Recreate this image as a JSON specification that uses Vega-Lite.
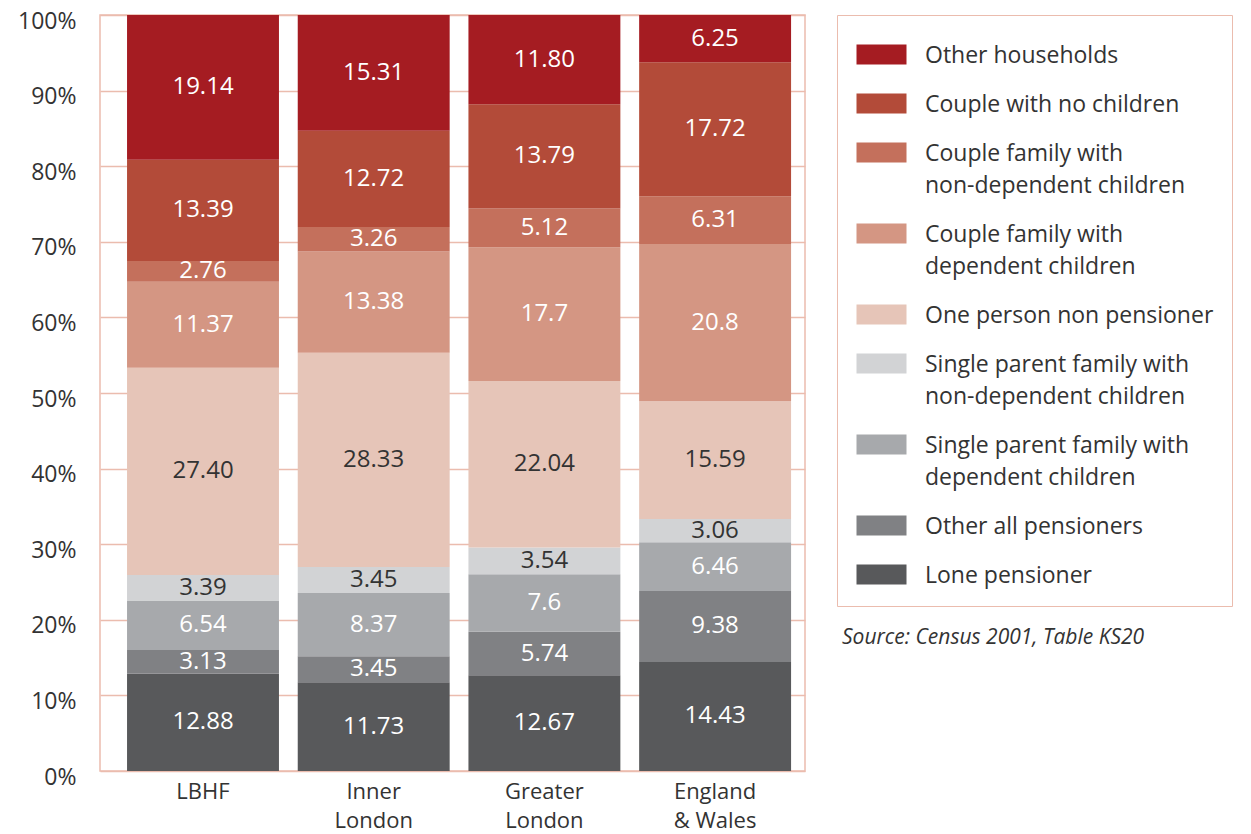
{
  "$schema": "https://vega.github.io/schema/vega-lite/v6.json",
  "width": 705,
  "height": 756,
  "autosize": {"type": "none"},
  "padding": {"left": 100, "top": 15, "right": 446, "bottom": 63},
  "background": "white",
  "config": {
    "font": "Open Sans",
    "view": {"stroke": "#EBBCAE", "strokeWidth": 1.5},
    "style": {"guide-label": {"lineHeight": 32}}
  },
  "title": {
    "text": "Source: Census 2001, Table KS20",
    "orient": "top",
    "anchor": "start",
    "frame": "group",
    "offset": 0,
    "dx": 742,
    "dy": 649,
    "baseline": "middle",
    "fontSize": 21,
    "fontStyle": "italic",
    "fontWeight": "normal",
    "font": "Open Sans",
    "color": "#333333"
  },
  "data": {
    "values": [
      {"region": "LBHF", "category": "Lone pensioner", "value": 12.88, "label": "12.88"},
      {"region": "LBHF", "category": "Other all pensioners", "value": 3.13, "label": "3.13"},
      {"region": "LBHF", "category": "Single parent family with dependent children", "value": 6.54, "label": "6.54"},
      {"region": "LBHF", "category": "Single parent family with non-dependent children", "value": 3.39, "label": "3.39"},
      {"region": "LBHF", "category": "One person non pensioner", "value": 27.40, "label": "27.40"},
      {"region": "LBHF", "category": "Couple family with dependent children", "value": 11.37, "label": "11.37"},
      {"region": "LBHF", "category": "Couple family with non-dependent children", "value": 2.76, "label": "2.76"},
      {"region": "LBHF", "category": "Couple with no children", "value": 13.39, "label": "13.39"},
      {"region": "LBHF", "category": "Other households", "value": 19.14, "label": "19.14"},
      {"region": "Inner London", "category": "Lone pensioner", "value": 11.73, "label": "11.73"},
      {"region": "Inner London", "category": "Other all pensioners", "value": 3.45, "label": "3.45"},
      {"region": "Inner London", "category": "Single parent family with dependent children", "value": 8.37, "label": "8.37"},
      {"region": "Inner London", "category": "Single parent family with non-dependent children", "value": 3.45, "label": "3.45"},
      {"region": "Inner London", "category": "One person non pensioner", "value": 28.33, "label": "28.33"},
      {"region": "Inner London", "category": "Couple family with dependent children", "value": 13.38, "label": "13.38"},
      {"region": "Inner London", "category": "Couple family with non-dependent children", "value": 3.26, "label": "3.26"},
      {"region": "Inner London", "category": "Couple with no children", "value": 12.72, "label": "12.72"},
      {"region": "Inner London", "category": "Other households", "value": 15.31, "label": "15.31"},
      {"region": "Greater London", "category": "Lone pensioner", "value": 12.67, "label": "12.67"},
      {"region": "Greater London", "category": "Other all pensioners", "value": 5.74, "label": "5.74"},
      {"region": "Greater London", "category": "Single parent family with dependent children", "value": 7.6, "label": "7.6"},
      {"region": "Greater London", "category": "Single parent family with non-dependent children", "value": 3.54, "label": "3.54"},
      {"region": "Greater London", "category": "One person non pensioner", "value": 22.04, "label": "22.04"},
      {"region": "Greater London", "category": "Couple family with dependent children", "value": 17.7, "label": "17.7"},
      {"region": "Greater London", "category": "Couple family with non-dependent children", "value": 5.12, "label": "5.12"},
      {"region": "Greater London", "category": "Couple with no children", "value": 13.79, "label": "13.79"},
      {"region": "Greater London", "category": "Other households", "value": 11.80, "label": "11.80"},
      {"region": "England & Wales", "category": "Lone pensioner", "value": 14.43, "label": "14.43"},
      {"region": "England & Wales", "category": "Other all pensioners", "value": 9.38, "label": "9.38"},
      {"region": "England & Wales", "category": "Single parent family with dependent children", "value": 6.46, "label": "6.46"},
      {"region": "England & Wales", "category": "Single parent family with non-dependent children", "value": 3.06, "label": "3.06"},
      {"region": "England & Wales", "category": "One person non pensioner", "value": 15.59, "label": "15.59"},
      {"region": "England & Wales", "category": "Couple family with dependent children", "value": 20.8, "label": "20.8"},
      {"region": "England & Wales", "category": "Couple family with non-dependent children", "value": 6.31, "label": "6.31"},
      {"region": "England & Wales", "category": "Couple with no children", "value": 17.72, "label": "17.72"},
      {"region": "England & Wales", "category": "Other households", "value": 6.25, "label": "6.25"}
    ]
  },
  "transform": [
    {"window": [{"op": "row_number", "as": "rank"}], "groupby": ["region"]}
  ],
  "encoding": {
    "x": {
      "field": "region",
      "type": "nominal",
      "sort": ["LBHF", "Inner London", "Greater London", "England & Wales"],
      "scale": {"paddingInner": 0.11, "paddingOuter": 0.12, "align": 0.66},
      "axis": {
        "title": null,
        "labelAngle": 0,
        "domain": false,
        "ticks": false,
        "labelFontSize": 22,
        "labelColor": "#333333",
        "labelPadding": 10,
        "labelLineHeight": 29,
        "labelExpr": "datum.label == 'England & Wales' ? ['England', '& Wales'] : split(datum.label, ' ')"
      }
    },
    "order": {"field": "rank", "type": "quantitative"}
  },
  "layer": [
    {
      "mark": {"type": "bar"},
      "encoding": {
        "y": {
          "field": "value",
          "type": "quantitative",
          "stack": "zero",
          "scale": {"domain": [0, 100], "nice": false},
          "axis": {
            "title": null,
            "values": [0, 10, 20, 30, 40, 50, 60, 70, 80, 90, 100],
            "domain": false,
            "ticks": false,
            "grid": true,
            "gridColor": "#EBBCAE",
            "gridWidth": 1.5,
            "labelFontSize": 23,
            "labelColor": "#333333",
            "labelPadding": 24,
            "labelOffset": 6,
            "labelExpr": "datum.value + '%'"
          }
        },
        "color": {
          "field": "category",
          "type": "nominal",
          "scale": {
            "domain": [
              "Lone pensioner",
              "Other all pensioners",
              "Single parent family with dependent children",
              "Single parent family with non-dependent children",
              "One person non pensioner",
              "Couple family with dependent children",
              "Couple family with non-dependent children",
              "Couple with no children",
              "Other households"
            ],
            "range": ["#58595B", "#808184", "#A7A9AC", "#D2D3D5", "#E6C5B8", "#D49683", "#C4705C", "#B34B39", "#A51C22"]
          },
          "legend": {
            "title": null,
            "orient": "none",
            "legendX": 737,
            "legendY": 0,
            "values": [
              "Other households",
              "Couple with no children",
              "Couple family with non-dependent children",
              "Couple family with dependent children",
              "One person non pensioner",
              "Single parent family with non-dependent children",
              "Single parent family with dependent children",
              "Other all pensioners",
              "Lone pensioner"
            ],
            "symbolType": "M-1,0H4V2H-1Z",
            "symbolSize": 400,
            "symbolStrokeWidth": 0,
            "labelFontSize": 23,
            "labelColor": "#333333",
            "labelFont": "Open Sans",
            "labelLimit": 500,
            "labelOffset": 47,
            "labelBaseline": "top",
            "rowPadding": 14,
            "padding": 18,
            "strokeColor": "#EBBCAE",
            "labelExpr": "datum.label == 'Couple family with non-dependent children' ? ['Couple family with', 'non-dependent children'] : datum.label == 'Couple family with dependent children' ? ['Couple family with', 'dependent children'] : datum.label == 'Single parent family with non-dependent children' ? ['Single parent family with', 'non-dependent children'] : datum.label == 'Single parent family with dependent children' ? ['Single parent family with', 'dependent children'] : datum.label"
          }
        }
      }
    },
    {
      "mark": {"type": "text", "fontSize": 24, "font": "Open Sans", "baseline": "middle"},
      "encoding": {
        "y": {"field": "value", "type": "quantitative", "stack": "zero", "bandPosition": 0.5},
        "detail": {"field": "category", "type": "nominal"},
        "color": {
          "condition": {
            "test": "datum.category == 'One person non pensioner' || datum.category == 'Single parent family with non-dependent children'",
            "value": "#333333"
          },
          "value": "#FFFFFF"
        },
        "text": {"field": "label"}
      }
    }
  ]
}
